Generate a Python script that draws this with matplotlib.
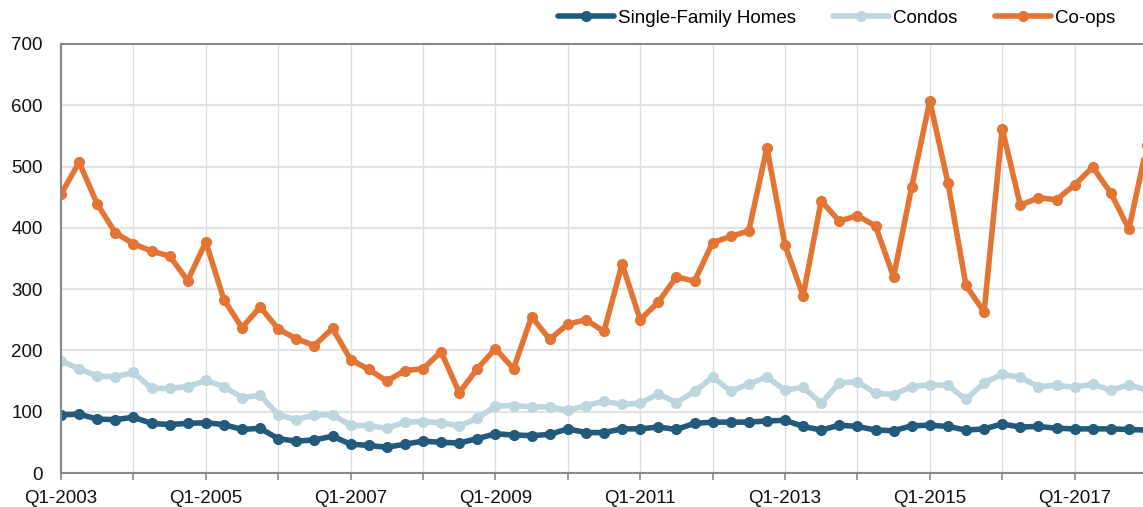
import matplotlib
matplotlib.use("Agg")
import matplotlib.pyplot as plt
from matplotlib.ticker import MultipleLocator, FixedLocator

plt.rcParams['font.family'] = ['Liberation Sans', 'DejaVu Sans']

years = list(range(2003, 2019))
quarters = [f"Q{q}-{y}" for y in years for q in range(1, 5)][:61]

single_family = [95, 96, 88, 87, 91, 81, 79, 81, 82, 79, 71, 73, 56, 52, 54, 60,
                 47, 45, 42, 47, 52, 50, 49, 56, 64, 62, 61, 63, 72, 66, 66, 72,
                 72, 75, 71, 81, 83, 83, 83, 85, 86, 76, 70, 78, 76, 70, 69, 77,
                 78, 76, 70, 72, 80, 75, 76, 73, 72, 72, 72, 71, 70]
condos = [183, 170, 158, 157, 164, 138, 138, 141, 151, 141, 123, 127, 95, 87, 95, 95,
          78, 77, 73, 83, 84, 82, 77, 89, 109, 110, 108, 108, 102, 110, 117, 112,
          114, 129, 115, 133, 156, 134, 145, 157, 135, 140, 114, 147, 149, 130, 128, 141,
          144, 143, 120, 147, 161, 156, 141, 143, 140, 145, 135, 144, 135]
coops = [455, 507, 439, 392, 374, 362, 354, 314, 377, 283, 237, 271, 235, 219, 208, 236,
         185, 169, 150, 167, 170, 198, 131, 170, 203, 170, 255, 218, 243, 250, 231, 341,
         250, 279, 320, 313, 376, 386, 395, 531, 372, 289, 444, 411, 420, 403, 320, 467,
         607, 474, 306, 263, 562, 437, 449, 446, 470, 499, 457, 398, 535]

series = [
    ("Single-Family Homes", single_family, "#215a7b"),
    ("Condos", condos, "#bdd5de"),
    ("Co-ops", coops, "#e37434"),
]

W, H = 1143, 507
fig = plt.figure(figsize=(W / 100, H / 100), dpi=100)
ax = fig.add_axes([61 / W, (H - 473) / H, 1 - 61 / W, 429 / H])

x = list(range(len(quarters)))
for name, vals, col in series:
    ax.plot(x, vals, color=col, lw=4, marker='o', markersize=7,
            label=name, solid_joinstyle='round', solid_capstyle='round')

ax.set_xlim(0, (W - 61) / 18.1)
ax.set_ylim(0, 700)
ax.yaxis.set_major_locator(MultipleLocator(100))

major = list(range(0, len(quarters), 8))
minor = list(range(4, len(quarters), 8))
ax.xaxis.set_major_locator(FixedLocator(major))
ax.xaxis.set_minor_locator(FixedLocator(minor))
ax.set_xticklabels([quarters[i] for i in major])

ax.grid(True, which='both', axis='x', color='#dddddd', lw=1)
ax.grid(True, which='major', axis='y', color='#e2e2e2', lw=1.5)
ax.set_axisbelow(True)

ax.tick_params(axis='x', which='both', length=5, color='#888888', width=1.2,
               labelsize=13.5, pad=7, labelcolor='#111111')
ax.tick_params(axis='y', length=0, labelsize=13.5, pad=13, labelcolor='#111111')

for s in ['left', 'bottom', 'top']:
    ax.spines[s].set_color('#888888')
    ax.spines[s].set_linewidth(1.5)
ax.spines['right'].set_visible(False)

fig.legend(loc='center', bbox_to_anchor=((557 + 1116) / 2 / W, 1 - 18 / H),
           ncol=3, frameon=False, fontsize=13.5, handlelength=3.0,
           handletextpad=0.2, columnspacing=2.0, borderpad=0)

fig.savefig("out.png", dpi=100)
